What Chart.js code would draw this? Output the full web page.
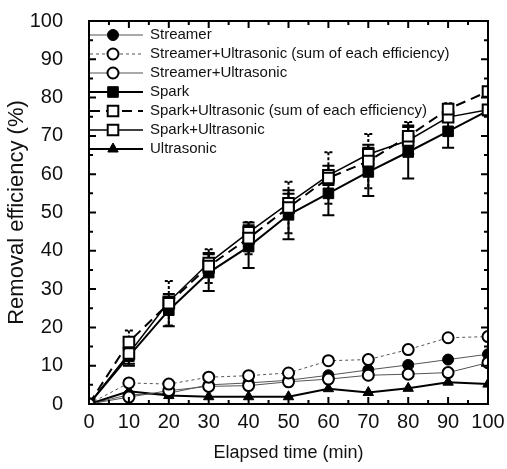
<!DOCTYPE html>
<html>
<head>
<meta charset="utf-8">
<script src="https://cdn.jsdelivr.net/npm/chart.js@4.4.1/dist/chart.umd.min.js"></script>
<style>
  html, body { margin: 0; padding: 0; background: #fff; }
</style>
</head>
<body>
<canvas id="chart" width="507" height="469"></canvas>
<script>
// ============ Data ============
const times = [0, 10, 20, 30, 40, 50, 60, 70, 80, 90, 100];

const streamer      = [0, 2.4, 2.8, 5.0, 5.5, 6.2, 7.5, 8.9, 10.2, 11.6, 13.0];
const streamerSum   = [0, 5.5, 5.2, 7.0, 7.4, 8.1, 11.3, 11.6, 14.2, 17.3, 17.6];
const streamerUltra = [0, 1.8, 3.5, 4.6, 4.8, 5.8, 6.5, 7.5, 7.8, 8.2, 10.8];
const spark         = [0, 12.5, 24.5, 34.3, 41.1, 49.4, 55.0, 60.6, 65.8, 71.2, 76.6];
const sparkSum      = [0, 16.2, 26.3, 36.0, 43.3, 51.3, 59.0, 63.4, 69.9, 77.0, 81.6];
const sparkUltra    = [0, 13.2, 26.7, 36.8, 44.8, 52.4, 59.7, 65.2, 68.8, 74.9, 76.8];
const ultrasonic    = [0, 3.3, 2.2, 1.9, 1.9, 1.9, 4.0, 3.0, 4.1, 5.7, 5.2];

// error bar half-widths (%)
const sparkErr      = [0, 2.0, 4.2, 4.8, 5.6, 6.4, 5.7, 6.3, 6.9, 4.3, 0];
const sparkSumErr   = [0, 3.0, 5.8, 4.4, 4.2, 6.7, 6.7, 7.1, 3.7, 1.5, 0];
const sparkUltraErr = [0, 3.2, 0, 2.6, 2.6, 2.5, 2.5, 2.5, 3.5, 0, 0];

const seriesNames = [
  'Streamer',
  'Streamer+Ultrasonic (sum of each efficiency)',
  'Streamer+Ultrasonic',
  'Spark',
  'Spark+Ultrasonic (sum of each efficiency)',
  'Spark+Ultrasonic',
  'Ultrasonic'
];

const FONT = '"Liberation Sans", Arial, sans-serif';

function pts(values) {
  return values.map((v, i) => ({ x: times[i], y: v }));
}

function series(label, values, opts) {
  return Object.assign({
    label: label,
    data: pts(values),
    borderColor: '#000',
    borderWidth: 2,
    tension: 0,
    pointBorderColor: '#000',
    pointBorderWidth: 2,
    pointBackgroundColor: '#000',
    pointRadius: 5.5,
    pointHoverRadius: 5.5,
    order: 0
  }, opts);
}

// filled Streamer / Spark markers sit underneath the open ones (order 1)
const datasets = [
  series(seriesNames[0], streamer, { borderColor: '#555', borderWidth: 1, pointStyle: 'circle', pointBorderWidth: 1, order: 1 }),
  series(seriesNames[1], streamerSum, { borderColor: '#555', borderWidth: 1, borderDash: [3, 3], pointStyle: 'circle', pointBackgroundColor: '#fff' }),
  series(seriesNames[2], streamerUltra, { borderColor: '#555', borderWidth: 1, pointStyle: 'circle', pointBackgroundColor: '#fff' }),
  series(seriesNames[3], spark, { pointStyle: 'rect', pointRadius: 7.5, pointBorderWidth: 1, errors: sparkErr, order: 1 }),
  series(seriesNames[4], sparkSum, { borderDash: [10, 6], pointStyle: 'rect', pointRadius: 7.5, pointBackgroundColor: '#fff', errors: sparkSumErr, errorDash: [3, 2] }),
  series(seriesNames[5], sparkUltra, { borderWidth: 1.5, pointStyle: 'rect', pointRadius: 7.5, pointBackgroundColor: '#fff', errors: sparkUltraErr }),
  series(seriesNames[6], ultrasonic, { pointStyle: 'triangle', pointRadius: 6, pointBorderWidth: 1 })
];

// ============ Plugins ============
// error bars drawn below the markers
const errorBars = {
  id: 'errorBars',
  beforeDatasetsDraw(chart) {
    const ctx = chart.ctx;
    const xs = chart.scales.x, ys = chart.scales.y;
    chart.data.datasets.forEach(ds => {
      if (!ds.errors) return;
      ctx.save();
      ctx.strokeStyle = '#000';
      ctx.lineWidth = 2;
      ctx.setLineDash(ds.errorDash || []);
      ds.data.forEach((p, i) => {
        const e = ds.errors[i];
        if (!e) return;
        const x = xs.getPixelForValue(p.x);
        const yTop = ys.getPixelForValue(p.y + e);
        const yBot = ys.getPixelForValue(p.y - e);
        const cap = ds.errorDash ? 4 : 6;
        ctx.beginPath();
        ctx.moveTo(x, yTop); ctx.lineTo(x, yBot);
        ctx.moveTo(x - cap, yTop); ctx.lineTo(x + cap, yTop);
        ctx.moveTo(x - cap, yBot); ctx.lineTo(x + cap, yBot);
        ctx.stroke();
      });
      ctx.restore();
    });
  }
};

// frame with inward ticks on all four sides
const frame = {
  id: 'frame',
  afterDatasetsDraw(chart) {
    const ctx = chart.ctx;
    const a = chart.chartArea;
    const xs = chart.scales.x, ys = chart.scales.y;
    ctx.save();
    ctx.strokeStyle = '#000';
    ctx.lineWidth = 2;
    ctx.setLineDash([]);
    ctx.strokeRect(a.left, a.top, a.right - a.left, a.bottom - a.top);
    ctx.beginPath();
    for (let v = 0; v <= 100; v += 5) {
      const len = v % 10 === 0 ? 7 : 4;
      const px = xs.getPixelForValue(v);
      ctx.moveTo(px, a.bottom); ctx.lineTo(px, a.bottom - len);
      ctx.moveTo(px, a.top); ctx.lineTo(px, a.top + len);
      const py = ys.getPixelForValue(v);
      ctx.moveTo(a.left, py); ctx.lineTo(a.left + len, py);
      ctx.moveTo(a.right, py); ctx.lineTo(a.right - len, py);
    }
    ctx.stroke();
    ctx.restore();
  }
};

// legend with line sample + marker, inside the plot
const lineLegend = {
  id: 'lineLegend',
  afterDraw(chart) {
    const ctx = chart.ctx;
    const a = chart.chartArea;
    ctx.save();
    chart.data.datasets.forEach((ds, i) => {
      const y = a.top + 14 + i * 19;
      const x0 = a.left + 1, x1 = 143, xm = 113;
      ctx.strokeStyle = ds.borderColor;
      ctx.lineWidth = ds.borderWidth;
      ctx.setLineDash(ds.borderDash || []);
      ctx.beginPath();
      ctx.moveTo(x0, y); ctx.lineTo(x1, y);
      ctx.stroke();
      ctx.setLineDash([]);
      ctx.strokeStyle = ds.pointBorderColor;
      ctx.fillStyle = ds.pointBackgroundColor;
      ctx.lineWidth = ds.pointBorderWidth;
      Chart.helpers.drawPoint(ctx, { pointStyle: ds.pointStyle, radius: ds.pointRadius, borderWidth: ds.pointBorderWidth, rotation: 0 }, xm, y);
      ctx.fillStyle = '#111';
      ctx.font = '15px ' + FONT;
      ctx.textBaseline = 'middle';
      ctx.fillText(ds.label, 150, y);
    });
    ctx.restore();
  }
};

// ============ Chart ============
new Chart(document.getElementById('chart'), {
  type: 'line',
  data: { datasets: datasets },
  plugins: [errorBars, frame, lineLegend],
  options: {
    responsive: false,
    animation: false,
    layout: { padding: { top: 21, right: 19, left: 0, bottom: 0 } },
    plugins: { legend: { display: false }, tooltip: { enabled: false } },
    scales: {
      x: {
        type: 'linear',
        min: 0, max: 100,
        grid: { display: false, drawTicks: false },
        border: { display: false },
        ticks: { stepSize: 10, padding: 6, color: '#111', font: { family: FONT, size: 20 } },
        title: { display: true, text: 'Elapsed time (min)', color: '#111', font: { family: FONT, size: 18 }, padding: { top: 2, bottom: 5 } },
        afterFit(scale) {
          scale.height = 65;
          scale.paddingLeft = 0;
          scale.paddingRight = 0;
        }
      },
      y: {
        min: 0, max: 100,
        grid: { display: false, drawTicks: false },
        border: { display: false },
        ticks: { stepSize: 10, padding: 26, color: '#111', font: { family: FONT, size: 20 } },
        title: { display: true, text: 'Removal efficiency (%)', color: '#111', font: { family: FONT, size: 22 }, padding: { top: 4, bottom: 2 } },
        afterFit(scale) {
          scale.width = 89;
          scale.paddingTop = 0;
          scale.paddingBottom = 0;
        }
      }
    }
  }
});
</script>
</body>
</html>
